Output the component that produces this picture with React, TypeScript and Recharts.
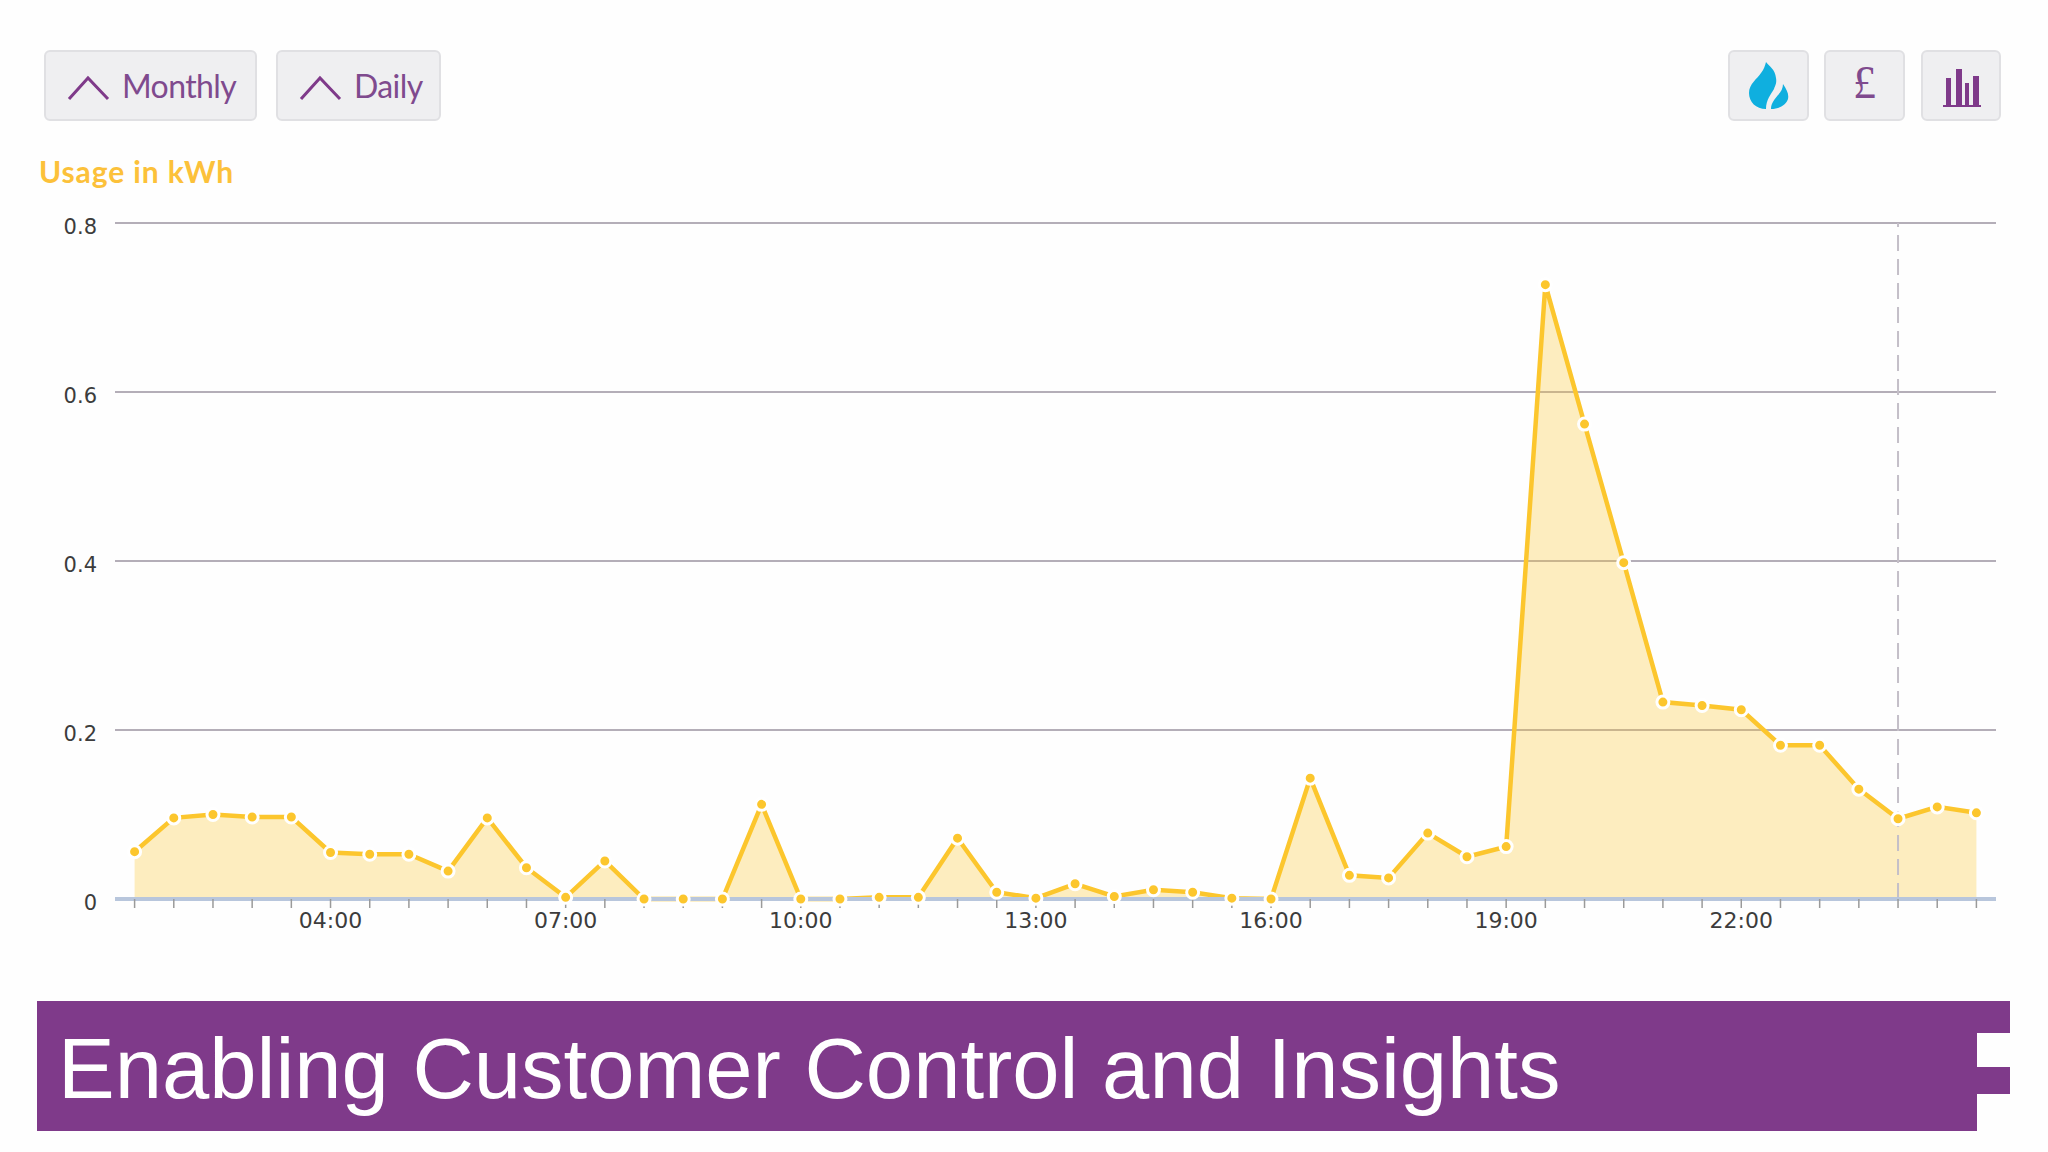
import React from "react";
import {
  ComposedChart,
  Area,
  Line,
  CartesianGrid,
  XAxis,
  YAxis,
  ReferenceLine,
} from "recharts";

// half-hourly readings, the axis starts at 01:30 and wraps past midnight
const times = [
  "01:30", "02:00", "02:30", "03:00", "03:30", "04:00", "04:30", "05:00",
  "05:30", "06:00", "06:30", "07:00", "07:30", "08:00", "08:30", "09:00",
  "09:30", "10:00", "10:30", "11:00", "11:30", "12:00", "12:30", "13:00",
  "13:30", "14:00", "14:30", "15:00", "15:30", "16:00", "16:30", "17:00",
  "17:30", "18:00", "18:30", "19:00", "19:30", "20:00", "20:30", "21:00",
  "21:30", "22:00", "22:30", "23:00", "23:30", "00:00", "00:30", "01:00",
];
const usage = [
  0.056, 0.096, 0.1, 0.097, 0.097, 0.055, 0.053, 0.053,
  0.033, 0.096, 0.037, 0.002, 0.045, 0, 0, 0,
  0.112, 0, 0, 0.002, 0.002, 0.072, 0.008, 0.001,
  0.018, 0.003, 0.011, 0.008, 0.001, 0, 0.143, 0.028,
  0.025, 0.078, 0.05, 0.062, 0.727, 0.562, 0.398, 0.233,
  0.229, 0.224, 0.182, 0.182, 0.13, 0.095, 0.109, 0.102,
];
const labelledTimes = ["04:00", "07:00", "10:00", "13:00", "16:00", "19:00", "22:00"];
const yTicks = [0, 0.2, 0.4, 0.6, 0.8];
const midnight = "00:00";

const data = times.map((time, i) => ({ time, usage: usage[i] }));

const YELLOW = "#fcc62d";
const PURPLE = "#7f4a8e";
const TICK_FONT = "'DejaVu Sans', sans-serif";

const buttonStyle: React.CSSProperties = {
  position: "absolute",
  top: 50,
  height: 71,
  boxSizing: "border-box",
  background: "#efeff1",
  border: "2px solid #e0e0e3",
  borderRadius: 6,
};

function Chevron({ left }: { left: number }) {
  return (
    <svg style={{ position: "absolute", left, top: 23, width: 44, height: 26 }} viewBox="0 0 44 26">
      <polyline points="2,24 21,3 41,24" fill="none" stroke="#7f3a8a" strokeWidth={3} />
    </svg>
  );
}

function TextButton({ left, width, label }: { left: number; width: number; label: string }) {
  return (
    <div style={{ ...buttonStyle, left, width }}>
      <Chevron left={21} />
      <span
        style={{
          position: "absolute",
          left: 76,
          top: 14,
          fontFamily: "Lato, sans-serif",
          fontSize: 32,
          lineHeight: "40px",
          letterSpacing: -0.6,
          color: PURPLE,
        }}
      >
        {label}
      </span>
    </div>
  );
}

export default function App() {
  return (
    <div
      style={{
        position: "absolute",
        left: 0,
        top: 0,
        width: 2048,
        height: 1152,
        background: "#fefefe",
        overflow: "hidden",
      }}
    >
      <ComposedChart
        width={2048}
        height={1152}
        data={data}
        margin={{ top: 223, right: 52, bottom: 0, left: 0 }}
      >
        <CartesianGrid horizontal vertical={false} stroke="#b4aeb8" strokeWidth={2} />
        <YAxis
          width={115}
          domain={[0, 0.8]}
          ticks={yTicks}
          axisLine={false}
          tickLine={false}
          tickMargin={12}
          tick={{ fontSize: 21, fontFamily: TICK_FONT, fill: "#3c3c3c", dy: 4 }}
        />
        <Area
          dataKey="usage"
          type="linear"
          stroke={YELLOW}
          strokeWidth={4.5}
          fill={YELLOW}
          fillOpacity={0.3}
          dot={false}
          activeDot={false}
          isAnimationActive={false}
        />
        <XAxis
          dataKey="time"
          scale="band"
          height={253}
          interval={0}
          tickSize={9}
          tickMargin={4}
          axisLine={{ stroke: "#b8c6dc", strokeWidth: 4 }}
          tickLine={{ stroke: "#9a9a9a", strokeWidth: 1.5 }}
          tick={{ fontSize: 22, fontFamily: TICK_FONT, fill: "#3c3c3c" }}
          tickFormatter={(v: string) => (labelledTimes.includes(v) ? v : "")}
        />
        <ReferenceLine x={midnight} stroke="#c4bfc8" strokeWidth={2} strokeDasharray="16 8" />
        <Line
          dataKey="usage"
          type="linear"
          stroke="none"
          dot={{ r: 6, fill: YELLOW, stroke: "#fff", strokeWidth: 3, fillOpacity: 1 }}
          activeDot={false}
          legendType="none"
          isAnimationActive={false}
        />
      </ComposedChart>

      <TextButton left={44} width={213} label="Monthly" />
      <TextButton left={276} width={165} label="Daily" />

      <div style={{ ...buttonStyle, left: 1728, width: 81 }}>
        <svg style={{ position: "absolute", left: 19, top: 10, width: 40, height: 48 }} viewBox="0 0 40 48">
          <path
            d="M17 0 C20 4 26 7 27 16 C28 21 26 24 25 27 C22 32 17 38 17 47 C7 47 0 40 0 31 C0 22 8 17 12 11 C15 7 16 4 17 0 Z"
            fill="#0fafdf"
          />
          <path d="M34 22 C38 28 40 32 39 37 C37 43 30 47 22 47 C22 41 26 37 29 33 C32 30 34 26 34 22 Z" fill="#0fafdf" />
        </svg>
      </div>
      <div style={{ ...buttonStyle, left: 1824, width: 81 }}>
        <span
          style={{
            position: "absolute",
            left: 0,
            width: "100%",
            textAlign: "center",
            top: 3,
            fontFamily: "'Liberation Serif', serif",
            fontSize: 46,
            lineHeight: "56px",
            color: PURPLE,
          }}
        >
          £
        </span>
      </div>
      <div style={{ ...buttonStyle, left: 1921, width: 80 }}>
        <svg style={{ position: "absolute", left: 20, top: 16, width: 38, height: 40 }} viewBox="0 0 38 40">
          <g fill="#7f3a8a">
            <rect x="3" y="10" width="5" height="28" />
            <rect x="13" y="1" width="6" height="37" />
            <rect x="22" y="15" width="4" height="23" />
            <rect x="30" y="8" width="6" height="30" />
            <rect x="0" y="37" width="38" height="2" />
          </g>
        </svg>
      </div>

      <div
        style={{
          position: "absolute",
          left: 39,
          top: 152,
          fontFamily: "Lato, sans-serif",
          fontWeight: 700,
          fontSize: 30,
          lineHeight: "38px",
          letterSpacing: 0.9,
          color: "#fcc13a",
        }}
      >
        Usage in kWh
      </div>

      {/* title band with the notched right edge */}
      <div style={{ position: "absolute", left: 37, top: 1001, width: 1940, height: 130, background: "#7f3a8a" }} />
      <div style={{ position: "absolute", left: 1977, top: 1001, width: 33, height: 32, background: "#7f3a8a" }} />
      <div style={{ position: "absolute", left: 1977, top: 1067, width: 33, height: 27, background: "#7f3a8a" }} />
      <div
        style={{
          position: "absolute",
          left: 58,
          top: 1019,
          fontFamily: "'Liberation Sans', Arial, sans-serif",
          fontSize: 85,
          lineHeight: "100px",
          color: "#fff",
          whiteSpace: "nowrap",
        }}
      >
        Enabling Customer Control and Insights
      </div>
    </div>
  );
}
